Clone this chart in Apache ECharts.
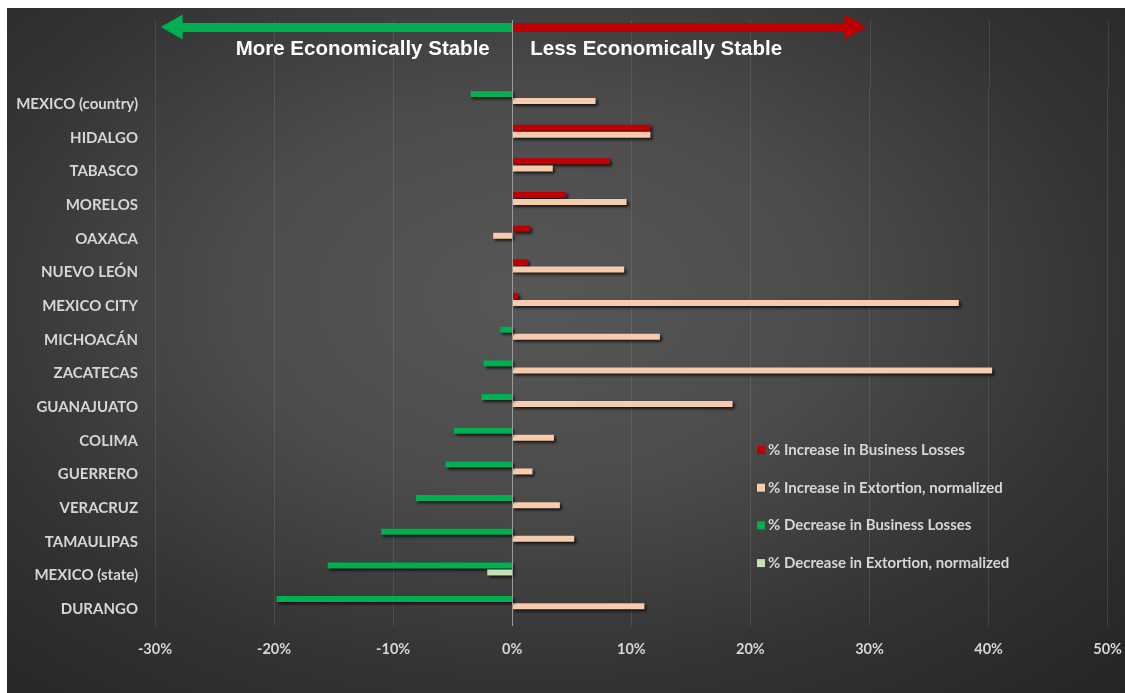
<!DOCTYPE html>
<html>
<head>
<meta charset="utf-8">
<script src="https://cdn.jsdelivr.net/npm/echarts@6/dist/echarts.min.js"></script>
<style>
  html, body { margin: 0; padding: 0; background: #ffffff; width: 1125px; height: 693px; overflow: hidden; }
  #c { position: absolute; left: 7px; top: 8px; width: 1118px; height: 685px;
       background: radial-gradient(ellipse 75% 80% at 47% 42%, #575757 0%, #4c4c4c 35%, #333333 70%, #252525 100%); }
</style>
</head>
<body>
<div id="c"></div>
<script>
const categories = ['MEXICO (country)', 'HIDALGO', 'TABASCO', 'MORELOS', 'OAXACA', 'NUEVO LEÓN', 'MEXICO CITY', 'MICHOACÁN', 'ZACATECAS', 'GUANAJUATO', 'COLIMA', 'GUERRERO', 'VERACRUZ', 'TAMAULIPAS', 'MEXICO (state)', 'DURANGO'];
const incBusinessLosses = [null, 11.6, 8.2, 4.5, 1.5, 1.3, 0.5, null, null, null, null, null, null, null, null, null];
const incExtortion = [7.0, 11.6, 3.4, 9.6, -1.6, 9.4, 37.5, 12.4, 40.3, 18.5, 3.5, 1.7, 4.0, 5.2, null, 11.1];
const decBusinessLosses = [-3.5, null, null, null, null, null, null, -1.0, -2.4, -2.6, -4.9, -5.6, -8.1, -11.0, -15.5, -19.8];
const decExtortion = [null, null, null, null, null, null, null, null, null, null, null, null, null, null, -2.1, null];
const seriesNames = ['% Increase in Business Losses', '% Increase in Extortion, normalized', '% Decrease in Business Losses', '% Decrease in Extortion, normalized'];
const xTicks = { min: -30, max: 50, interval: 10 };
const arrowTexts = ['More Economically Stable', 'Less Economically Stable'];

const colors = ['#C00000', '#F8CBAD', '#00B050', '#C5E0B4'];
const FONT = 'Lato, "Open Sans", sans-serif';

function toData(arr) {
  const out = [];
  arr.forEach((v, i) => { if (v !== null) out.push([v, i]); });
  return out;
}

function makeRender(slotOffset) {
  return function (params, api) {
    const val = api.value(0);
    const cat = api.value(1);
    const p0 = api.coord([0, cat]);
    const p1 = api.coord([val, cat]);
    const band = api.size([0, 1])[1];
    const h = 6;
    const cy = p0[1] + slotOffset * band;
    return {
      type: 'rect',
      shape: { x: Math.min(p0[0], p1[0]), y: cy - h / 2, width: Math.abs(p1[0] - p0[0]), height: h },
      style: Object.assign(api.style(), { shadowBlur: 3, shadowColor: 'rgba(0,0,0,0.75)', shadowOffsetX: 2, shadowOffsetY: 2 })
    };
  };
}

const seriesArrays = [incBusinessLosses, incExtortion, decBusinessLosses, decExtortion];
const slotOffsets = [-0.30, -0.09, -0.30, -0.09];

const barSeries = seriesArrays.map((arr, k) => ({
  type: 'custom',
  name: seriesNames[k],
  xAxisIndex: 1,
  yAxisIndex: 1,
  renderItem: makeRender(slotOffsets[k]),
  encode: { x: 0, y: 1 },
  itemStyle: { color: colors[k] },
  data: toData(arr),
  z: 3
}));

barSeries[0].markLine = {
  silent: true, symbol: 'none', label: { show: false },
  lineStyle: { color: '#9a9a9a', width: 1, type: 'solid' },
  data: [{ xAxis: 0 }]
};

const chart = echarts.init(document.getElementById('c'), null, { renderer: 'canvas' });

const gridLeft = 148, gridRight = 17;
const mainTop = 79.3, mainBottom = 67;
const headTop = 12, headHeight = 67.3;

const option = {
  animation: false,
  backgroundColor: 'transparent',
  grid: [
    { left: gridLeft, right: gridRight, top: headTop, height: headHeight },
    { left: gridLeft, right: gridRight, top: mainTop, bottom: mainBottom }
  ],
  xAxis: [
    { gridIndex: 0, type: 'value', min: xTicks.min, max: xTicks.max, interval: xTicks.interval,
      axisLabel: { show: false }, axisTick: { show: false }, axisLine: { show: false },
      splitLine: { show: true, lineStyle: { color: 'rgba(255,255,255,0.10)', width: 1 } } },
    { gridIndex: 1, type: 'value', min: xTicks.min, max: xTicks.max, interval: xTicks.interval,
      axisLabel: { color: '#d6d6d6', fontFamily: FONT, fontWeight: 'bold', fontSize: 14.5, margin: 16,
        formatter: v => v + '%' },
      axisTick: { show: false }, axisLine: { show: false },
      splitLine: { show: true, lineStyle: { color: 'rgba(255,255,255,0.10)', width: 1 } } }
  ],
  yAxis: [
    { gridIndex: 0, type: 'value', min: 0, max: 1, show: false, splitLine: { show: false } },
    { gridIndex: 1, type: 'category', data: categories, inverse: true,
      axisLine: { show: false }, axisTick: { show: false }, splitLine: { show: false },
      axisLabel: { color: '#d6d6d6', fontFamily: FONT, fontWeight: 'bold', fontSize: 15, margin: 17 } }
  ],
  legend: {
    data: seriesNames,
    orient: 'vertical',
    left: 745,
    top: 429,
    icon: 'rect',
    itemWidth: 8,
    itemHeight: 8,
    itemGap: 21.7,
    textStyle: { color: '#d6d6d6', fontFamily: FONT, fontWeight: 'bold', fontSize: 15, lineHeight: 16, padding: [0, 0, 0, -2] },
    selectedMode: false
  },
  series: [
    {
      type: 'line', xAxisIndex: 0, yAxisIndex: 0, data: [], silent: true,
      markLine: {
        silent: true, label: { show: false }, animation: false,
        data: [
          [{ coord: [0, 0.896], symbol: 'none', lineStyle: { color: '#00B050', width: 9, type: 'solid' } },
           { coord: [-28.6, 0.896], symbol: 'triangle', symbolSize: [25, 22] }],
          [{ coord: [0.15, 0.896], symbol: 'none', lineStyle: { color: '#C00000', width: 9, type: 'solid' } },
           { coord: [28.8, 0.896], symbol: 'triangle', symbolSize: [25, 22] }],
          [{ coord: [0, 1], symbol: 'none', lineStyle: { color: '#9a9a9a', width: 1, type: 'solid' } },
           { coord: [0, 0], symbol: 'none' }]
        ]
      }
    }
  ].concat(barSeries)
};

chart.setOption(option);

const yText = 0.56;
const pL = chart.convertToPixel({ xAxisIndex: 0, yAxisIndex: 0 }, [-1.9, yText]);
const pR = chart.convertToPixel({ xAxisIndex: 0, yAxisIndex: 0 }, [1.5, yText]);
const titleFont = 'bold 20.5px "Liberation Sans", Arial, sans-serif';
chart.setOption({
  graphic: [
    { type: 'text', x: pL[0], y: pL[1], style: { text: arrowTexts[0], fill: '#ffffff', font: titleFont, align: 'right', verticalAlign: 'middle', shadowBlur: 2, shadowColor: 'rgba(0,0,0,0.6)', shadowOffsetX: 1, shadowOffsetY: 1 } },
    { type: 'text', x: pR[0], y: pR[1], style: { text: arrowTexts[1], fill: '#ffffff', font: titleFont, align: 'left', verticalAlign: 'middle', shadowBlur: 2, shadowColor: 'rgba(0,0,0,0.6)', shadowOffsetX: 1, shadowOffsetY: 1 } }
  ]
});
</script>
</body>
</html>
